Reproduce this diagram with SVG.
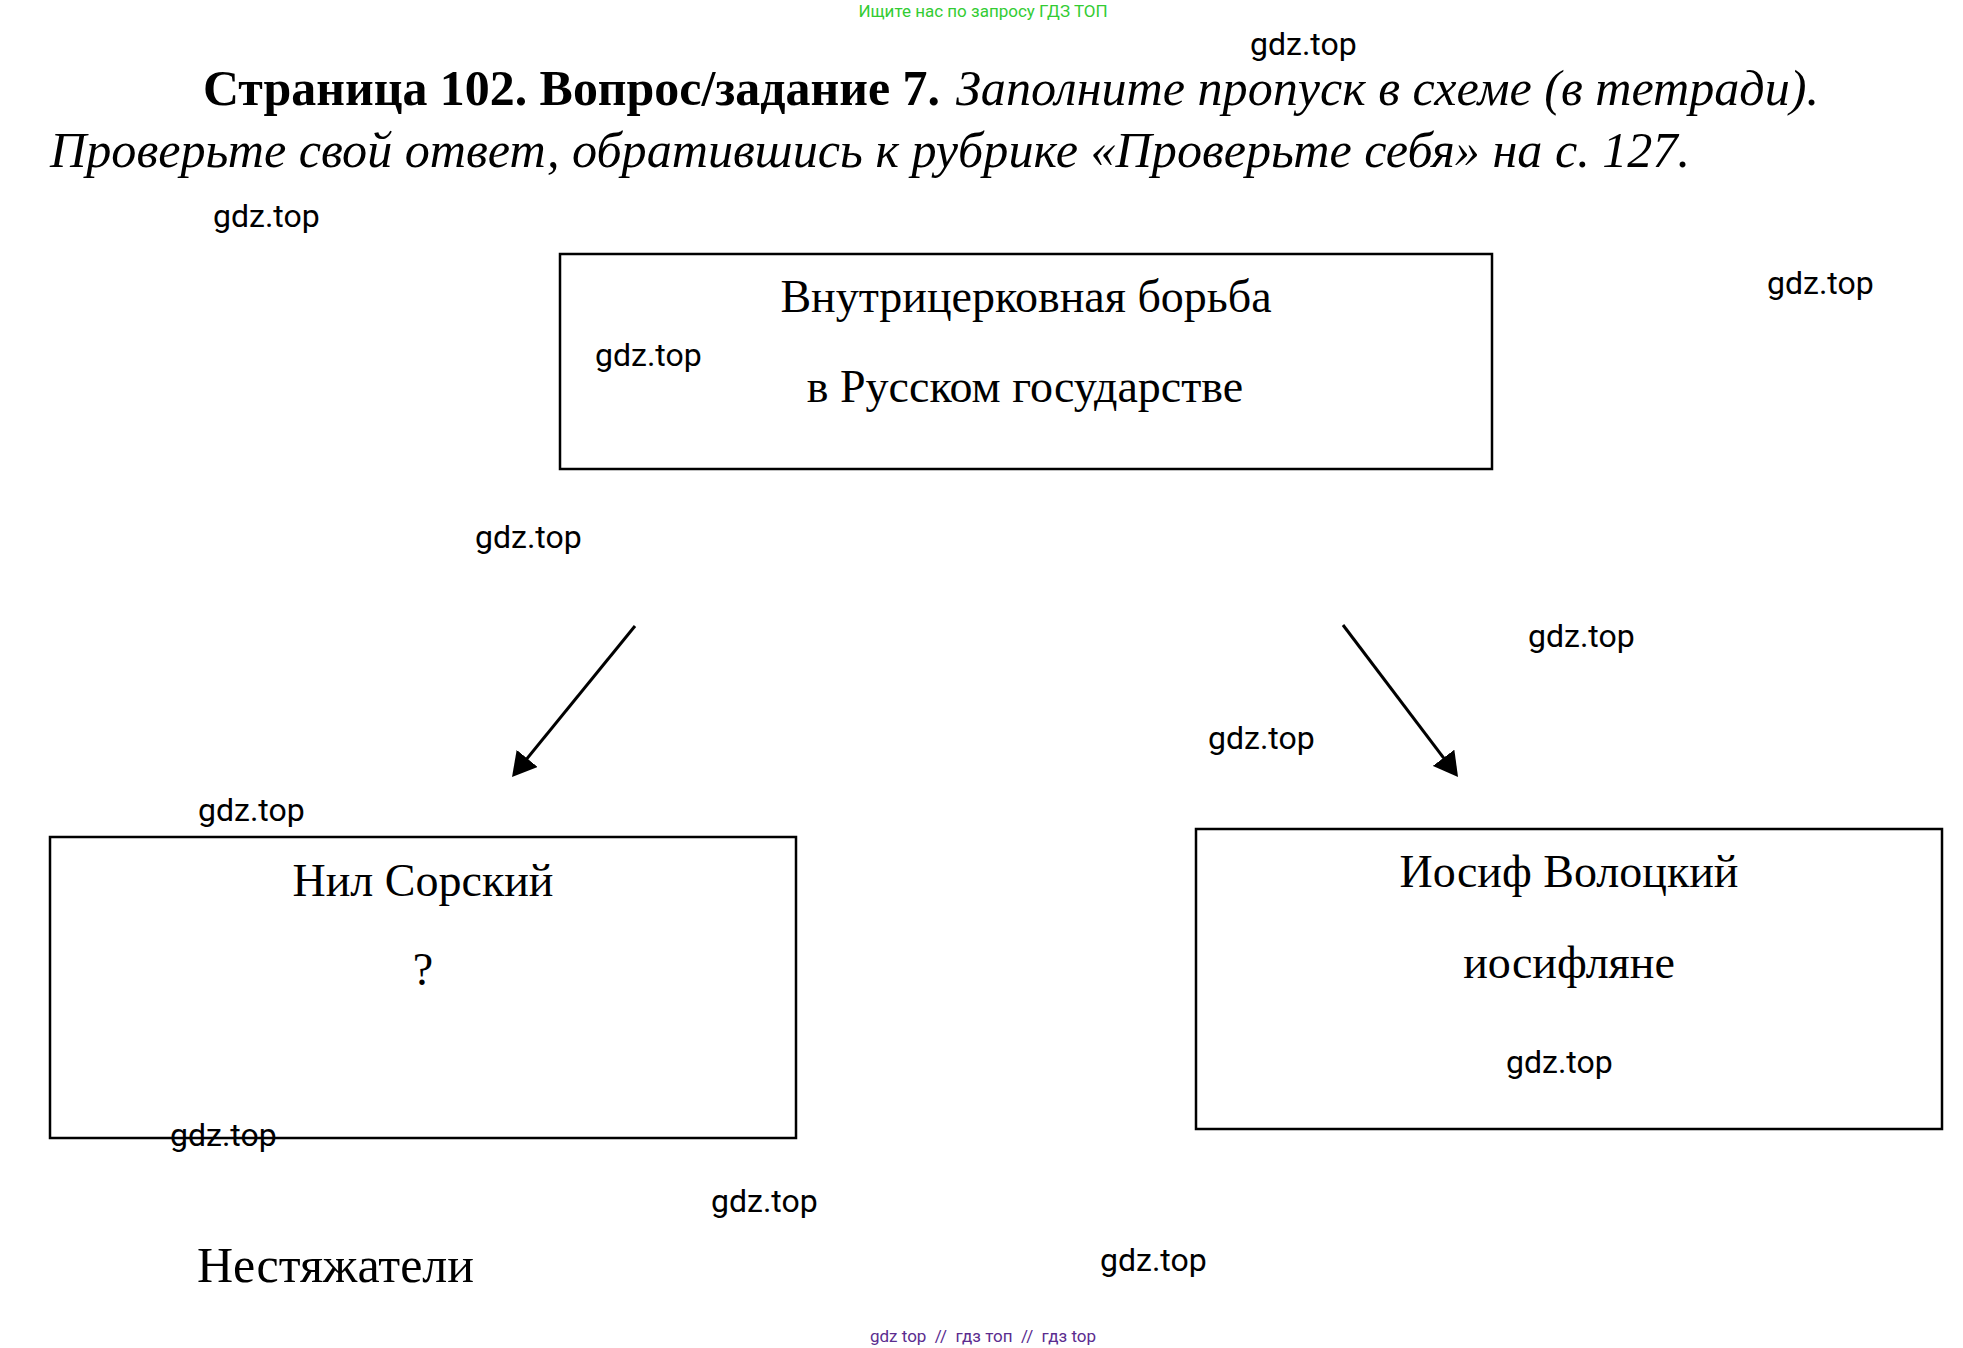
<svg xmlns="http://www.w3.org/2000/svg" width="1963" height="1348" viewBox="0 0 1963 1348">
<style>
.wm{font-family:Roboto,"Liberation Sans",sans-serif;font-size:32px;fill:#000}
.serif{font-family:"Liberation Serif","Times New Roman",serif;fill:#000}
.box{fill:none;stroke:#000;stroke-width:2.5}
.lbl{font-family:"Liberation Serif","Times New Roman",serif;font-size:46px;fill:#000;text-anchor:middle}
.conn{stroke:#000;stroke-width:3;fill:none}
</style>
<defs>
<marker id="ah" markerUnits="userSpaceOnUse" markerWidth="24" markerHeight="27" viewBox="0 0 24 27" refX="12" refY="13.5" orient="auto">
<path d="M0,0 L24,13.5 L0,27 z" fill="#000"/>
</marker>
</defs>
<rect width="1963" height="1348" fill="#fff"/>
<text x="983" y="17" text-anchor="middle" style="font-family:Roboto,'Liberation Sans',sans-serif;font-size:17px;fill:#33cc33">Ищите нас по запросу ГДЗ ТОП</text>
<g id="title">
<text class="serif" x="203" y="105" font-size="50" font-weight="bold" textLength="737" lengthAdjust="spacingAndGlyphs">Страница 102. Вопрос/задание 7.</text>
<text class="serif" x="956" y="105" font-size="50" font-style="italic" textLength="863" lengthAdjust="spacingAndGlyphs">Заполните пропуск в схеме (в тетради).</text>
<text class="serif" x="50" y="167" font-size="50" font-style="italic" textLength="1640" lengthAdjust="spacingAndGlyphs">Проверьте свой ответ, обратившись к рубрике «Проверьте себя» на с. 127.</text>
</g>
<g id="node-top">
<rect class="box" x="560" y="254" width="932" height="215"/>
<text class="lbl" x="1026" y="312">Внутрицерковная борьба</text>
<text class="lbl" x="1025" y="402">в Русском государстве</text>
</g>
<g id="node-left">
<rect class="box" x="50" y="837" width="746" height="301"/>
<text class="lbl" x="423" y="896">Нил Сорский</text>
<text class="lbl" x="423" y="985">?</text>
</g>
<g id="node-right">
<rect class="box" x="1196" y="829" width="746" height="300"/>
<text class="lbl" x="1569" y="887">Иосиф Волоцкий</text>
<text class="lbl" x="1569" y="978">иосифляне</text>
</g>
<g id="connectors">
<line class="conn" x1="635" y1="626" x2="519.6" y2="767.7" marker-end="url(#ah)"/>
<line class="conn" x1="1343" y1="625" x2="1450.8" y2="767.4" marker-end="url(#ah)"/>
</g>
<g id="node-nestyazhateli">
<text class="serif" x="197" y="1282" font-size="50" textLength="277" lengthAdjust="spacingAndGlyphs">Нестяжатели</text>
</g>
<g id="watermarks">
<text class="wm" x="1250" y="55">gdz.top</text>
<text class="wm" x="213" y="227">gdz.top</text>
<text class="wm" x="1767" y="294">gdz.top</text>
<text class="wm" x="595" y="366">gdz.top</text>
<text class="wm" x="475" y="548">gdz.top</text>
<text class="wm" x="1528" y="647">gdz.top</text>
<text class="wm" x="1208" y="749">gdz.top</text>
<text class="wm" x="198" y="821">gdz.top</text>
<text class="wm" x="170" y="1146">gdz.top</text>
<text class="wm" x="1506" y="1073">gdz.top</text>
<text class="wm" x="711" y="1212">gdz.top</text>
<text class="wm" x="1100" y="1271">gdz.top</text>
</g>
<text x="983" y="1342" text-anchor="middle" style="font-family:Roboto,'Liberation Sans',sans-serif;font-size:17px;fill:#5b2c8f" xml:space="preserve">gdz top  //  гдз топ  //  гдз top</text>
</svg>
